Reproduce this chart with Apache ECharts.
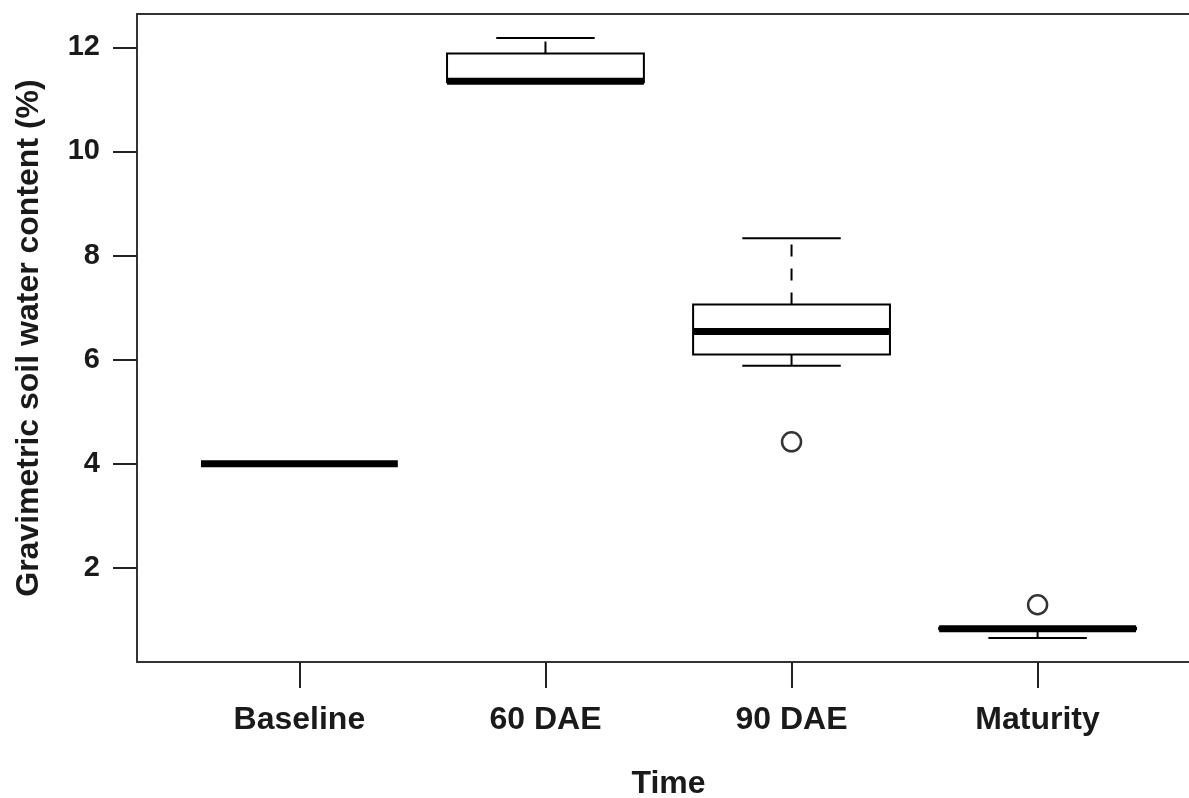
<!DOCTYPE html>
<html>
<head>
<meta charset="utf-8">
<script src="https://cdn.jsdelivr.net/npm/echarts@6/dist/echarts.min.js"></script>
<style>
html,body{margin:0;padding:0;background:#fff;}
#chart{width:1189px;height:798px;}
</style>
</head>
<body>
<div id="chart"></div>
<script>
// ---- data ----
const categories = ['Baseline', '60 DAE', '90 DAE', 'Maturity'];
const whiskerLow  = [4.00, 11.33, 5.88, 0.65];
const q1          = [4.00, 11.33, 6.10, 0.82];
const median      = [4.00, 11.35, 6.54, 0.83];
const q3          = [4.00, 11.88, 7.06, 0.85];
const whiskerHigh = [4.00, 12.18, 8.33, 0.85];
const outlierCat  = [3, 4];
const outlierVal  = [4.42, 1.29];
const yTicks = [2, 4, 6, 8, 10, 12];
const xTicks = [1, 2, 3, 4];

const boxData = categories.map((c, i) => [i + 1, whiskerLow[i], q1[i], median[i], q3[i], whiskerHigh[i]]);
const outlierData = outlierCat.map((c, i) => [c, outlierVal[i]]);

const FONT = 'Liberation Sans, Arial, sans-serif';
const chart = echarts.init(document.getElementById('chart'), null, {renderer: 'canvas'});

function renderBox(params, api) {
  const x = api.value(0);
  const lo = api.value(1), a = api.value(2), m = api.value(3), b = api.value(4), hi = api.value(5);
  const half = api.size([0.4, 0])[0];
  const capHalf = half / 2;
  const pLo = api.coord([x, lo]), pA = api.coord([x, a]), pM = api.coord([x, m]);
  const pB = api.coord([x, b]), pHi = api.coord([x, hi]);
  const cx = pM[0];
  const lineStyle = {stroke: '#000', lineWidth: 2, fill: null};
  const dashStyle = {stroke: '#000', lineWidth: 2, lineDash: [12, 12], fill: null};
  const children = [];
  if (hi > b) {
    children.push({type: 'line', shape: {x1: cx, y1: pB[1], x2: cx, y2: pHi[1]}, style: dashStyle});
    children.push({type: 'line', shape: {x1: cx - capHalf, y1: pHi[1], x2: cx + capHalf, y2: pHi[1]}, style: lineStyle});
  }
  if (lo < a) {
    children.push({type: 'line', shape: {x1: cx, y1: pA[1], x2: cx, y2: pLo[1]}, style: dashStyle});
    children.push({type: 'line', shape: {x1: cx - capHalf, y1: pLo[1], x2: cx + capHalf, y2: pLo[1]}, style: lineStyle});
  }
  if (b > a) {
    children.push({type: 'rect', shape: {x: cx - half, y: pB[1], width: 2 * half, height: pA[1] - pB[1]},
      style: {stroke: '#000', lineWidth: 2, fill: '#fff'}});
  }
  children.push({type: 'line', shape: {x1: cx - half, y1: pM[1], x2: cx + half, y2: pM[1]},
    style: {stroke: '#000', lineWidth: 7, lineCap: 'butt'}});
  return {type: 'group', children: children};
}

const option = {
  backgroundColor: '#fff',
  animation: false,
  grid: {
    left: 137, top: 14, width: 1063, height: 648,
    containLabel: false, outerBoundsMode: 'none',
    show: true, borderColor: '#333', borderWidth: 2, backgroundColor: 'transparent'
  },
  xAxis: {
    type: 'value', min: 0.34, max: 4.66,
    splitLine: {show: false},
    axisLine: {show: false},
    axisTick: {show: true, customValues: xTicks, length: 26, lineStyle: {color: '#222', width: 2}},
    axisLabel: {
      show: true, customValues: xTicks, margin: 42,
      formatter: v => categories[Math.round(v) - 1] || '',
      fontFamily: FONT, fontWeight: 'bold', fontSize: 32, color: '#1a1a1a'
    },
    name: 'Time', nameLocation: 'middle', nameGap: 106,
    nameTextStyle: {fontFamily: FONT, fontWeight: 'bold', fontSize: 32, color: '#1a1a1a'}
  },
  yAxis: {
    type: 'value', min: 0.19, max: 12.64,
    splitLine: {show: false},
    axisLine: {show: false},
    axisTick: {show: true, customValues: yTicks, length: 24, lineStyle: {color: '#222', width: 2}},
    axisLabel: {
      show: true, customValues: yTicks, margin: 37,
      fontFamily: FONT, fontWeight: 'bold', fontSize: 29, color: '#1a1a1a'
    },
    name: 'Gravimetric soil water content (%)', nameLocation: 'middle', nameGap: 92,
    nameTextStyle: {fontFamily: FONT, fontWeight: 'bold', fontSize: 32, color: '#1a1a1a'}
  },
  series: [
    {
      type: 'custom',
      renderItem: renderBox,
      data: boxData,
      encode: {x: 0, y: [1, 2, 3, 4, 5]},
      z: 2
    },
    {
      type: 'scatter',
      data: outlierData,
      symbol: 'circle',
      symbolSize: 19,
      itemStyle: {color: '#fff', borderColor: '#000', borderWidth: 2.5},
      z: 3
    }
  ]
};
chart.setOption(option);
</script>
</body>
</html>
